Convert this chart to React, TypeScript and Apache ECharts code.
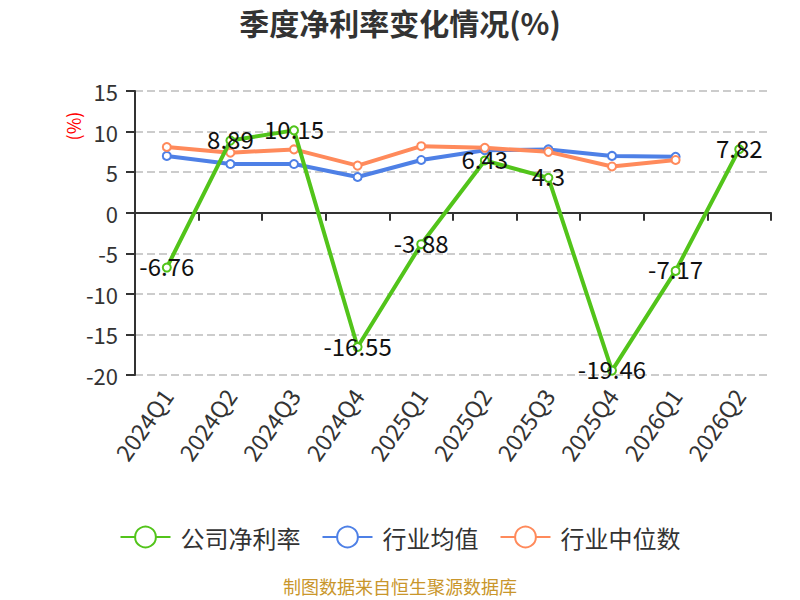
import React, { useEffect, useRef } from "react";
import * as echarts from "echarts";

const categories = ["2024Q1", "2024Q2", "2024Q3", "2024Q4", "2025Q1", "2025Q2", "2025Q3", "2025Q4", "2026Q1", "2026Q2"];
const companyRate = [-6.76, 8.89, 10.15, -16.55, -3.88, 6.43, 4.3, -19.46, -7.17, 7.82];
const industryAvg = [7.0, 6.0, 6.0, 4.4, 6.5, 7.7, 7.8, 7.0, 6.9, null];
const industryMedian = [8.1, 7.4, 7.8, 5.8, 8.2, 8.0, 7.5, 5.7, 6.5, null];
const seriesNames = ["公司净利率", "行业均值", "行业中位数"];
const colors = ["#52c41a", "#4e80e6", "#ff8a5b"];

const FONT = "'Noto Sans CJK SC', 'Noto Sans', sans-serif";

export default function App() {
  const ref = useRef<HTMLDivElement>(null);
  useEffect(() => {
    if (!ref.current) return;
    const chart = echarts.init(ref.current, null, { renderer: "svg" });
    const mk = (name: string, data: (number | null)[], color: string, withLabel: boolean, z: number) => ({
      name,
      type: "line",
      data,
      xAxisIndex: 0,
      yAxisIndex: 0,
      z,
      symbol: "emptyCircle",
      symbolSize: 8,
      lineStyle: { width: 4, color },
      itemStyle: { color, borderWidth: 2 },
      label: withLabel
        ? { show: true, position: "inside", fontSize: 24, color: "#111", fontFamily: FONT, offset: [0, -2] }
        : { show: false },
    });
    chart.setOption({
      animation: false,
      textStyle: { fontFamily: FONT },
      title: {
        text: "季度净利率变化情况(%)",
        left: "center",
        top: 2,
        textStyle: { fontSize: 30, fontWeight: "bold", color: "#333", fontFamily: FONT },
      },
      legend: {
        data: seriesNames,
        top: 520,
        left: "center",
        itemWidth: 50,
        itemHeight: 26,
        itemGap: 21,
        textStyle: { fontSize: 24, color: "#333", fontFamily: FONT, padding: [0, 0, 0, 5] },
      },
      grid: { left: 135, right: 29, top: 91, bottom: 225, containLabel: false },
      xAxis: [
        {
          type: "category",
          data: categories,
          position: "bottom",
          axisLine: { show: false, onZero: false },
          axisTick: { show: false },
          axisLabel: { rotate: 55, fontSize: 23, color: "#333", margin: 16, interval: 0, fontFamily: FONT },
        },
        {
          type: "category",
          data: categories,
          position: "bottom",
          axisLine: { show: true, onZero: true, lineStyle: { color: "#333", width: 2 } },
          axisTick: { show: true, length: 8, lineStyle: { color: "#333", width: 2 } },
          axisLabel: { show: false },
          splitLine: { show: false },
        },
      ],
      yAxis: {
        type: "value",
        min: -20,
        max: 15,
        interval: 5,
        axisLine: { show: true, lineStyle: { color: "#333", width: 2 } },
        axisTick: { show: true, length: 9, lineStyle: { color: "#333", width: 2 } },
        axisLabel: { fontSize: 22, color: "#333", margin: 17, fontFamily: FONT },
        splitLine: { show: true, lineStyle: { type: "dashed", color: "#cccccc", width: 2 } },
      },
      graphic: [
        {
          type: "text",
          x: 73,
          y: 126,
          rotation: Math.PI / 2,
          style: {
            text: "(%)",
            fill: "#ff0000",
            fontSize: 18,
            fontFamily: FONT,
            textAlign: "center",
            textVerticalAlign: "middle",
          },
        },
        {
          type: "text",
          left: "center",
          top: 577,
          style: {
            text: "制图数据来自恒生聚源数据库",
            fill: "#c9962b",
            fontSize: 18,
            fontFamily: FONT,
          },
        },
      ],
      series: [
        mk(seriesNames[0], companyRate, colors[0], true, 3),
        mk(seriesNames[1], industryAvg, colors[1], false, 2),
        mk(seriesNames[2], industryMedian, colors[2], false, 2),
      ],
    });
    return () => chart.dispose();
  }, []);
  return <div ref={ref} style={{ position: "absolute", left: 0, top: 0, width: 800, height: 600 }} />;
}
